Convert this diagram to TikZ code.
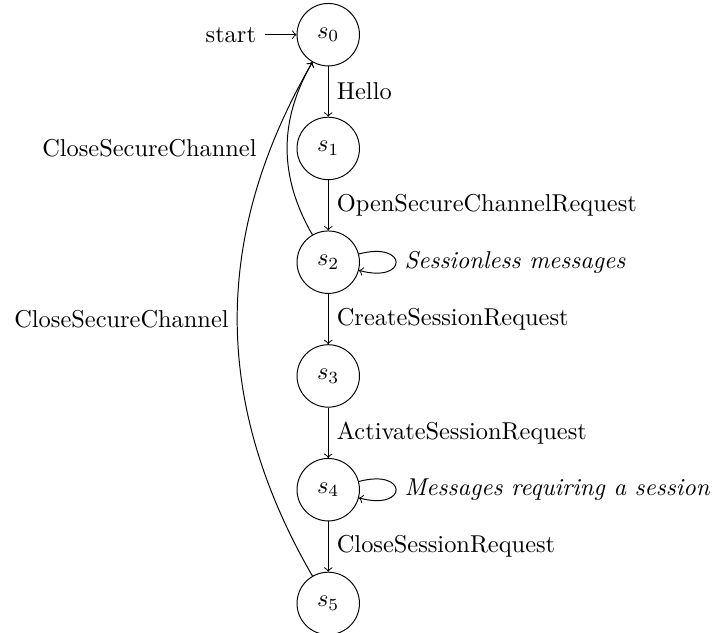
\documentclass[tikz,border=0pt]{standalone}
\usetikzlibrary{positioning}
\tikzset{
  fsmstate/.style={circle, draw, minimum size=0.9cm, inner sep=0pt},
  fsmarr/.style={->},
  fsmlbl/.style={font=\itshape},
}
\begin{document}
\begin{tikzpicture}[node distance=0.725cm]
  \useasboundingbox (-4.73,0.5) rectangle (5.53,-8.62);
  \node[fsmstate] (s0) {$s_0$};
  \node[fsmstate, below=of s0] (s1) {$s_1$};
  \node[fsmstate, below=of s1] (s2) {$s_2$};
  \node[fsmstate, below=of s2] (s3) {$s_3$};
  \node[fsmstate, below=of s3] (s4) {$s_4$};
  \node[fsmstate, below=of s4] (s5) {$s_5$};
  \node[left=0.46cm of s0] (start) {start};
  \draw[fsmarr] (start) -- (s0);
  % forward transitions
  \draw[fsmarr] (s0) -- node[right] {Hello} (s1);
  \draw[fsmarr] (s1) -- node[right] {OpenSecureChannelRequest} (s2);
  \draw[fsmarr] (s2) -- node[right] {CreateSessionRequest} (s3);
  \draw[fsmarr] (s3) -- node[right] {ActivateSessionRequest} (s4);
  \draw[fsmarr] (s4) -- node[right] {CloseSessionRequest} (s5);
  % self loops
  \draw[fsmarr] (s2) to[loop right] node[right, fsmlbl] {Sessionless messages} ();
  \draw[fsmarr] (s4) to[loop right] node[right, fsmlbl] {Messages requiring a session} ();
  % back to start
  \draw[fsmarr] (s2) to[bend left] node[left=9pt] {CloseSecureChannel} (s0);
  \draw[fsmarr] (s5) to[bend left] node[left] {CloseSecureChannel} (s0);
\end{tikzpicture}
\end{document}
